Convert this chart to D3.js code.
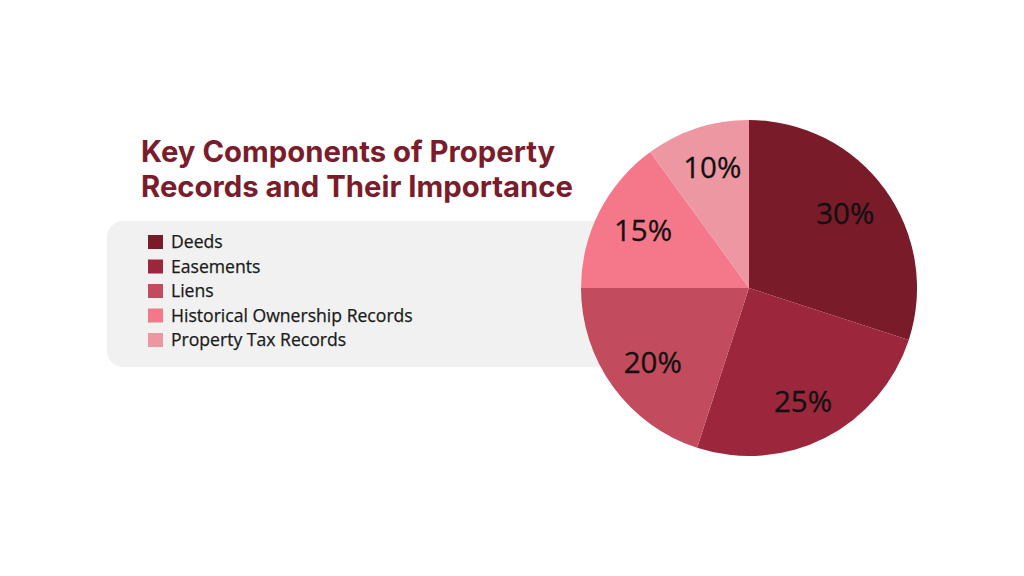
<!DOCTYPE html>
<html>
<head>
<meta charset="utf-8">
<script src="https://cdn.jsdelivr.net/npm/d3@7"></script>
<style>
  html, body { margin: 0; padding: 0; background: #ffffff; }
  svg { display: block; }
</style>
</head>
<body>
<svg id="chart" width="1024" height="576"></svg>
<script>
const categories = ["Deeds", "Easements", "Liens", "Historical Ownership Records", "Property Tax Records"];
const values = [30, 25, 20, 15, 10];
const colors = ["#791b29", "#9c273d", "#c24b5d", "#f5788a", "#ec97a2"];
const titleLines = ["Key Components of Property", "Records and Their Importance"];

const svg = d3.select("#chart");

// Legend background panel
svg.append("rect")
  .attr("x", 107).attr("y", 221)
  .attr("width", 620).attr("height", 146)
  .attr("rx", 16).attr("ry", 16)
  .attr("fill", "#f1f1f1");

// Title
const title = svg.append("text")
  .attr("x", 141).attr("y", 162)
  .attr("font-family", "Inter, 'Open Sans', sans-serif")
  .attr("font-weight", 700)
  .attr("font-size", 29.3)
  .attr("fill", "#7a1c2b");
title.selectAll("tspan").data(titleLines).join("tspan")
  .attr("x", 141)
  .attr("dy", (d, i) => i === 0 ? 0 : 34.5)
  .text(d => d);

// Legend
const legendY = d3.scalePoint().domain(categories).range([242, 340]);
const legend = svg.append("g");
const items = legend.selectAll("g").data(categories).join("g")
  .attr("transform", d => `translate(148, ${legendY(d)})`);
items.append("rect")
  .attr("x", 0).attr("y", -7)
  .attr("width", 15).attr("height", 14)
  .attr("fill", (d, i) => colors[i]);
items.append("text")
  .attr("x", 23).attr("y", 0)
  .attr("dy", "0.36em")
  .attr("font-family", "'Open Sans', sans-serif")
  .attr("font-weight", 500)
  .attr("font-size", 17.6)
  .attr("fill", "#1a1a1a")
  .attr("stroke", "#1a1a1a")
  .attr("stroke-width", 0.25)
  .text(d => d);

// Pie
const cx = 749, cy = 288, r = 168;
const pie = d3.pie().sort(null).value(d => d.v);
const data = pie(categories.map((c, i) => ({ c, v: values[i], col: colors[i] })));
const arc = d3.arc().innerRadius(0).outerRadius(r);
const labelRx = 119, labelRy = 127;
const mid = d => (d.startAngle + d.endAngle) / 2;

const g = svg.append("g").attr("transform", `translate(${cx},${cy})`);
g.selectAll("path").data(data).join("path")
  .attr("d", arc)
  .attr("fill", d => d.data.col);
g.selectAll("text").data(data).join("text")
  .attr("transform", d => `translate(${labelRx * Math.sin(mid(d))},${-labelRy * Math.cos(mid(d))})`)
  .attr("text-anchor", "middle")
  .attr("dy", "0.36em")
  .attr("font-family", "'Open Sans', sans-serif")
  .attr("font-weight", 500)
  .attr("font-size", 29.5)
  .attr("fill", "#111111")
  .attr("stroke", "#111111")
  .attr("stroke-width", 0.3)
  .text(d => d.data.v + "%");
</script>
</body>
</html>
